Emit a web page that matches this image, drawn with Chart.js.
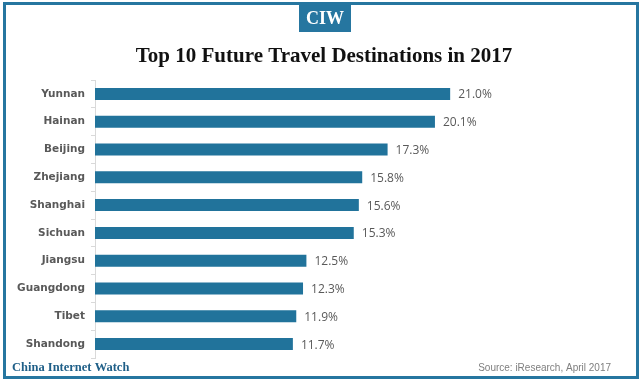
<!DOCTYPE html>
<html><head><meta charset="utf-8">
<script src="https://cdn.jsdelivr.net/npm/chart.js@4/dist/chart.umd.min.js"></script>
<style>html,body{margin:0;padding:0;background:#fff}#wrap{width:640px;height:383px;position:relative}</style>
</head><body><div id="wrap"><canvas id="c" width="640" height="383"></canvas></div>
<script>
const categories = ["Yunnan","Hainan","Beijing","Zhejiang","Shanghai","Sichuan","Jiangsu","Guangdong","Tibet","Shandong"];
const shares = [21.0,20.1,17.3,15.8,15.6,15.3,12.5,12.3,11.9,11.7];
const titleText = "Top 10 Future Travel Destinations in 2017";
const sourceText = "Source: iResearch, April 2017";
const brandText = "China Internet Watch";
const logoText = "CIW";

const BLUE = "#21739b";
const decor = {
  id: 'decor',
  beforeDraw(chart) {
    const ctx = chart.ctx;
    ctx.save();
    ctx.fillStyle = '#fff';
    ctx.fillRect(0,0,chart.width,chart.height);
    ctx.strokeStyle = '#2676a0';
    ctx.lineWidth = 3;
    ctx.strokeRect(4.5, 3.5, 633, 374);
    ctx.fillStyle = '#2676a0';
    ctx.fillRect(299, 4, 52, 28);
    ctx.fillStyle = '#fff';
    ctx.font = 'bold 18px "Liberation Serif", "DejaVu Serif", serif';
    ctx.textAlign = 'center'; ctx.textBaseline = 'middle';
    ctx.fillText(logoText, 325, 19);
    ctx.fillStyle = '#111';
    ctx.font = 'bold 21px "Liberation Serif", "DejaVu Serif", serif';
    ctx.fillText(titleText, 324, 57);
    ctx.textAlign = 'left';
    ctx.fillStyle = '#1f5f88';
    ctx.font = 'bold 12.5px "Liberation Serif", "DejaVu Serif", serif';
    ctx.fillText(brandText, 12, 368);
    ctx.textAlign = 'right';
    ctx.fillStyle = '#7f7f7f';
    ctx.font = '10px "Liberation Sans", "DejaVu Sans", sans-serif';
    ctx.fillText(sourceText, 611, 368);
    ctx.restore();
  },
  afterDatasetsDraw(chart) {
    const ctx = chart.ctx;
    const meta = chart.getDatasetMeta(0);
    ctx.save();
    ctx.fillStyle = '#595959';
    ctx.font = '12px "Open Sans", "DejaVu Sans", sans-serif';
    ctx.textAlign = 'left'; ctx.textBaseline = 'middle';
    meta.data.forEach((bar, i) => {
      ctx.fillText(shares[i].toFixed(1) + '%', bar.x + 8, bar.y + 1);
    });
    ctx.restore();
  }
};

new Chart(document.getElementById('c'), {
  type: 'bar',
  data: {
    labels: categories,
    datasets: [{ data: shares, backgroundColor: BLUE, borderWidth: 0, barPercentage: 0.43, categoryPercentage: 1 }]
  },
  options: {
    indexAxis: 'y',
    responsive: false,
    animation: false,
    layout: { padding: { top: 80, bottom: 25, left: 4, right: 41 } },
    plugins: { legend: { display: false }, tooltip: { enabled: false }, title: { display: false } },
    scales: {
      x: { display: false, min: 0, max: 29.8 },
      y: {
        afterFit(s) { s.width = 91; },
        grid: { drawOnChartArea: false, color: '#d9d9d9', tickLength: 4, offset: true },
        border: { display: true, color: '#d9d9d9' },
        ticks: { color: '#595959', padding: 6, font: { family: '"DejaVu Sans", sans-serif', size: 10.5, weight: 'bold' } }
      }
    }
  },
  plugins: [decor]
});
</script></body></html>
